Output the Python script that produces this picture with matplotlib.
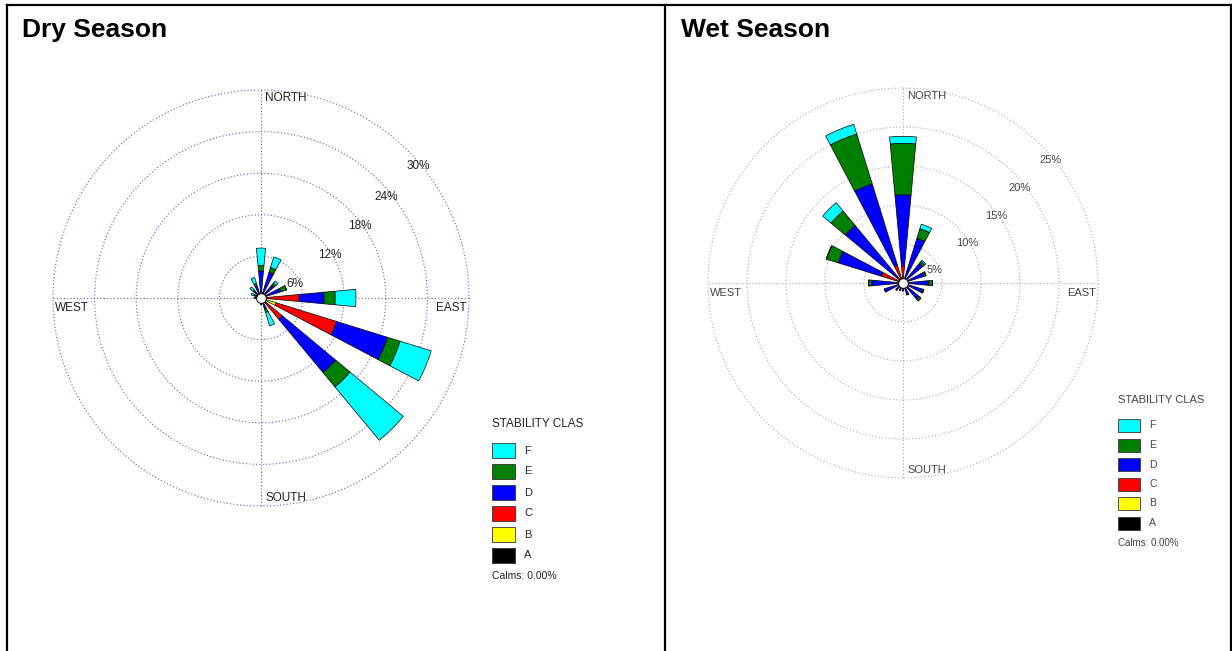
import numpy as np
import matplotlib.pyplot as plt
from matplotlib.patches import Rectangle

plt.rcParams['font.family'] = ['Liberation Sans', 'DejaVu Sans']

W, H = 1232, 651

# 16 wind directions, compass degrees
dirs = np.arange(16) * 22.5
classes = ['A', 'B', 'C', 'D', 'E', 'F']
class_colors = ['#000000', '#ffff00', '#ff0000', '#0000ff', '#008000', '#00ffff']

# frequency (%) per class, directions N, NNE, NE, ... NNW
dry_A = [0, 0, 0, 0, 0, 0.3, 0.2, 0, 0, 0, 0, 0, 0, 0, 0, 0]
dry_B = [0, 0, 0, 0, 0.5, 2.0, 0.8, 0, 0, 0, 0, 0, 0, 0, 0, 0]
dry_C = [1.0, 0.8, 0.5, 0.5, 5.0, 9.1, 3.0, 0, 0, 0, 0, 0, 0, 0, 0.2, 0.3]
dry_D = [2.9, 3.1, 1.9, 2.5, 3.6, 7.7, 10.0, 1.6, 0.9, 0.6, 0.5, 0.5, 0.8, 0.8, 1.0, 1.5]
dry_E = [0.8, 0.7, 0.4, 0.85, 1.6, 1.9, 2.7, 0.6, 0, 0, 0, 0, 0, 0.2, 0.3, 0.4]
dry_F = [2.5, 1.6, 0.4, 0, 3.0, 4.7, 10.0, 2.0, 0, 0, 0, 0, 0.2, 0.5, 0.6, 0.9]

wet_A = [0] * 16
wet_B = [0] * 16
wet_C = [2.2, 0.5, 0, 0, 0, 0, 0, 0, 0, 0, 0, 0, 0, 2.9, 1.0, 2.4]
wet_D = [9.1, 5.5, 3.3, 2.8, 3.3, 2.6, 2.7, 1.6, 1.0, 1.0, 1.2, 2.5, 4.0, 5.8, 8.6, 10.9]
wet_E = [6.6, 1.3, 0.3, 0.3, 0.5, 0.2, 0.3, 0, 0, 0, 0, 0, 0.4, 1.6, 2.4, 6.7]
wet_F = [0.9, 0.6, 0.2, 0, 0, 0, 0, 0, 0, 0, 0, 0, 0, 0, 1.4, 1.3]

dry_rings = [6, 12, 18, 24, 30]
wet_rings = [5, 10, 15, 20, 25]
calms = '0.00%'


def px(x, y):
    return x / W, 1 - y / H


def rose(fig, cx, cy, rad, rings, data, grid_color, fs, txt_color):
    x0, y0 = px(cx - rad, cy + rad)
    ax = fig.add_axes([x0, y0, 2 * rad / W, 2 * rad / H], projection='polar')
    ax.set_theta_zero_location('N')
    ax.set_theta_direction(-1)
    rmax = rings[-1]
    ax.set_ylim(0, rmax)
    ax.axis('off')

    t = np.linspace(0, 2 * np.pi, 400)
    for r in rings:
        ax.plot(t, np.full_like(t, r), color=grid_color, lw=0.8,
                ls=(0, (1, 2)), zorder=1, clip_on=False)
    for a in [0, 90, 180, 270]:
        ax.plot([np.radians(a)] * 2, [0, rmax], color=grid_color, lw=0.8,
                ls=(0, (1, 2)), zorder=1, clip_on=False)

    # ring labels
    lab_ang = [68, 58, 54, 51, 50]
    lab_fr = [0.875, 0.975, 0.98, 0.965, 0.985]
    for r, a, f in zip(rings, lab_ang, lab_fr):
        ax.text(np.radians(a), r * f, '%d%%' % r, ha='center', va='center',
                fontsize=fs, color=txt_color, zorder=2)

    theta = np.radians(dirs)
    bottom = np.zeros(16)
    for vals, col in zip(data, class_colors):
        vals = np.array(vals, dtype=float)
        ax.bar(theta, vals, width=np.radians(10.5), bottom=bottom, color=col,
               edgecolor='black', linewidth=0.5, zorder=3)
        bottom += vals
    ax.plot([0], [0], 'o', ms=7, mfc='white', mec='black', mew=0.7, zorder=5)

    kw = dict(fontsize=fs, color=txt_color, textcoords='offset pixels',
              va='center', zorder=4)
    ax.annotate('NORTH', (0, rmax), xytext=(4, -8), ha='left', **kw)
    ax.annotate('SOUTH', (np.pi, rmax), xytext=(4, 8), ha='left', **kw)
    ax.annotate('EAST', (np.pi / 2, rmax), xytext=(-2, -10), ha='right', **kw)
    ax.annotate('WEST', (3 * np.pi / 2, rmax), xytext=(2, -10), ha='left', **kw)
    return ax


def legend(fig, x, y, step, pw, ph, fs, txt_color):
    fig.text(*px(x, y), 'STABILITY CLAS', fontsize=fs, color=txt_color,
             va='center', ha='left')
    top = y + 19
    for i, (name, col) in enumerate(zip(classes[::-1], class_colors[::-1])):
        yy = top + i * step
        fx, fy = px(x, yy + ph)
        fig.patches.append(Rectangle((fx, fy), pw / W, ph / H, facecolor=col,
                                     edgecolor='#333333', linewidth=0.6,
                                     transform=fig.transFigure))
        fig.text(*px(x + pw + 9, yy + ph / 2), name, fontsize=fs - 0.5,
                 color=txt_color, va='center', ha='left')
    fig.text(*px(x, top + 6 * step + 7), 'Calms: ' + calms, fontsize=fs - 1,
             color=txt_color, va='center', ha='left')


fig = plt.figure(figsize=(W / 100, H / 100), dpi=100)

dry = [dry_A, dry_B, dry_C, dry_D, dry_E, dry_F]
wet = [wet_A, wet_B, wet_C, wet_D, wet_E, wet_F]
rose(fig, 261, 298, 208, dry_rings, dry, '#5c5cc8', 8.5, '#222222')
rose(fig, 903, 283, 195, wet_rings, wet, '#a8a8a8', 8, '#444444')

legend(fig, 492, 424, 21, 23, 15, 8.5, '#222222')
legend(fig, 1118, 400, 19.5, 22, 13, 8, '#444444')

fig.text(*px(22, 37), 'Dry Season', fontsize=19, fontweight='bold',
         va='baseline', ha='left')
fig.text(*px(681, 37), 'Wet Season', fontsize=19, fontweight='bold',
         va='baseline', ha='left')

# panel borders
for xs, ys in [([7, 7], [5, H]), ([665, 665], [5, H]), ([1231, 1231], [5, H]),
               ([7, 1231], [5, 5])]:
    fig.add_artist(plt.Line2D([x / W for x in xs], [1 - y / H for y in ys],
                              color='black', lw=1.6, transform=fig.transFigure))

fig.savefig('out.png', dpi=100)
